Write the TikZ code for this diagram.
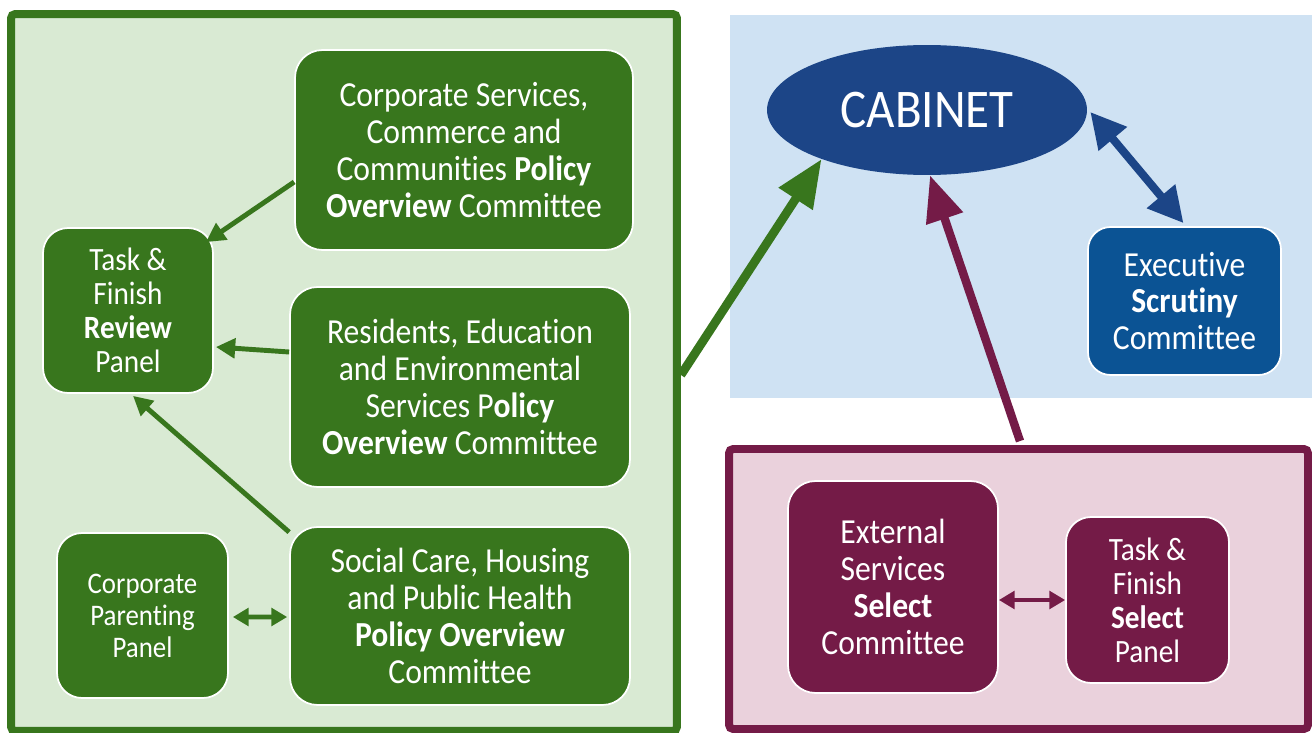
\documentclass[tikz,border=0pt]{standalone}
\usepackage{fontspec}
\setmainfont{Carlito}[FakeStretch=0.9, Ligatures=NoCommon]
\usetikzlibrary{arrows.meta}
\usetikzlibrary{shapes.geometric}
\usetikzlibrary{positioning}

\definecolor{dkgreen}{HTML}{38761D}
\definecolor{ltgreen}{HTML}{D9EAD3}
\definecolor{ltblue}{HTML}{CFE2F3}
\definecolor{cabblue}{HTML}{1C4587}
\definecolor{exblue}{HTML}{0B5394}
\definecolor{maroon}{HTML}{741B47}
\definecolor{ltpink}{HTML}{EAD1DC}

\tikzset{
  box/.style={draw=white, line width=1pt, rounded corners=0.55cm, text=white,
    align=center, inner sep=0pt},
  bigtxt/.style={font=\fontsize{20}{21}\selectfont},
  midtxt/.style={font=\fontsize{18.5}{19.3}\selectfont},
  smalltxt/.style={font=\fontsize{17}{18.2}\selectfont},
  frame/.style={line width=4.5pt, rounded corners=0.08cm, inner sep=0pt},
  thinarrow/.style={line width=2.8pt, -{Triangle[length=11pt,width=11pt]}},
  thinboth/.style={line width=2.8pt, {Triangle[length=9pt,width=10pt]}-{Triangle[length=9pt,width=10pt]}},
}

\begin{document}
\begin{tikzpicture}[x=0.02cm,y=-0.02cm]
    \useasboundingbox (0,0) rectangle (1312,733);
    % panels
    \fill[ltblue] (730,15) rectangle (1312,398);
    \node[frame, draw=dkgreen, fill=ltgreen, minimum width=13.32cm, minimum height=14.34cm] (greenframe) at (344,372.5) {};
    \node[frame, draw=maroon, fill=ltpink, minimum width=11.58cm, minimum height=5.6cm] (pinkframe) at (1018.5,589) {};

    % policy overview side
    \node[box, bigtxt, fill=dkgreen, minimum width=6.76cm, minimum height=4cm] (corp) at (464,150)
        {Corporate Services,\\Commerce and\\Communities \textbf{Policy}\\\textbf{Overview} Committee};
    \node[box, bigtxt, fill=dkgreen, minimum width=6.8cm, minimum height=4cm] (res) at (460,387)
        {Residents, Education\\and Environmental\\Services P\textbf{olicy}\\\textbf{Overview} Committee};
    \node[box, bigtxt, fill=dkgreen, minimum width=6.8cm, minimum height=3.56cm] (soc) at (460,616)
        {Social Care, Housing\\and Public Health\\\textbf{Policy Overview}\\Committee};
    \node[box, midtxt, fill=dkgreen, minimum width=3.4cm, minimum height=3.3cm, rounded corners=0.5cm] (task) at (128,310.5)
        {Task \&\\Finish\\\textbf{Review}\\Panel};
    \node[box, smalltxt, fill=dkgreen, minimum width=3.42cm, minimum height=3.3cm, rounded corners=0.5cm] (parent) at (142.5,615.5)
        {Corporate\\Parenting\\Panel};

    % executive side
    \node[ellipse, fill=cabblue, text=white, inner sep=0pt, minimum width=6.4cm, minimum height=2.6cm,
        font=\fontsize{31}{33}\selectfont] (cabinet) at (927,110) {CABINET};
    \node[box, bigtxt, fill=exblue, minimum width=3.86cm, minimum height=2.96cm, rounded corners=0.45cm] (exec) at (1184.5,301)
        {Executive\\\textbf{Scrutiny}\\Committee};

    % select side
    \node[box, bigtxt, fill=maroon, minimum width=4.2cm, minimum height=4.24cm] (ext) at (893,587)
        {External\\Services\\\textbf{Select}\\Committee};
    \node[box, midtxt, fill=maroon, minimum width=3.26cm, minimum height=3.32cm, rounded corners=0.5cm] (tfs) at (1147.5,600)
        {Task \&\\Finish\\\textbf{Select}\\Panel};

    % connectors
    \draw[dkgreen, thinarrow] ([shift={(0,32)}]corp.west) -- ([shift={(-8,15)}]task.north east);
    \draw[dkgreen, thinarrow] ([shift={(0,-35)}]res.west) -- ([shift={(2,36.5)}]task.east);
    \draw[dkgreen, thinarrow] ([shift={(0,6)}]soc.north west) -- ([shift={(5,2)}]task.south);
    \draw[dkgreen, thinboth] ([shift={(4,1.5)}]parent.east) -- ([shift={(-2,1)}]soc.west);
    \draw[dkgreen, line width=5pt, -{Triangle[length=27pt,width=22pt]}]
        ([shift={(0,2.5)}]greenframe.east) -- (cabinet.205);
    \draw[maroon, line width=4.8pt, -{Triangle[length=26pt,width=21pt]}]
        ([shift={(1.5,-4)}]pinkframe.north) -- ([shift={(3,0)}]cabinet.south);
    \draw[cabblue, line width=4.6pt, {Triangle[length=20pt,width=20pt]}-{Triangle[length=20pt,width=20pt]}]
        ([shift={(3,2)}]cabinet.east) -- ([shift={(-1,-3)}]exec.north);
    \draw[maroon, thinboth] (ext.east |- tfs.west) -- (tfs.west);
\end{tikzpicture}
\end{document}
